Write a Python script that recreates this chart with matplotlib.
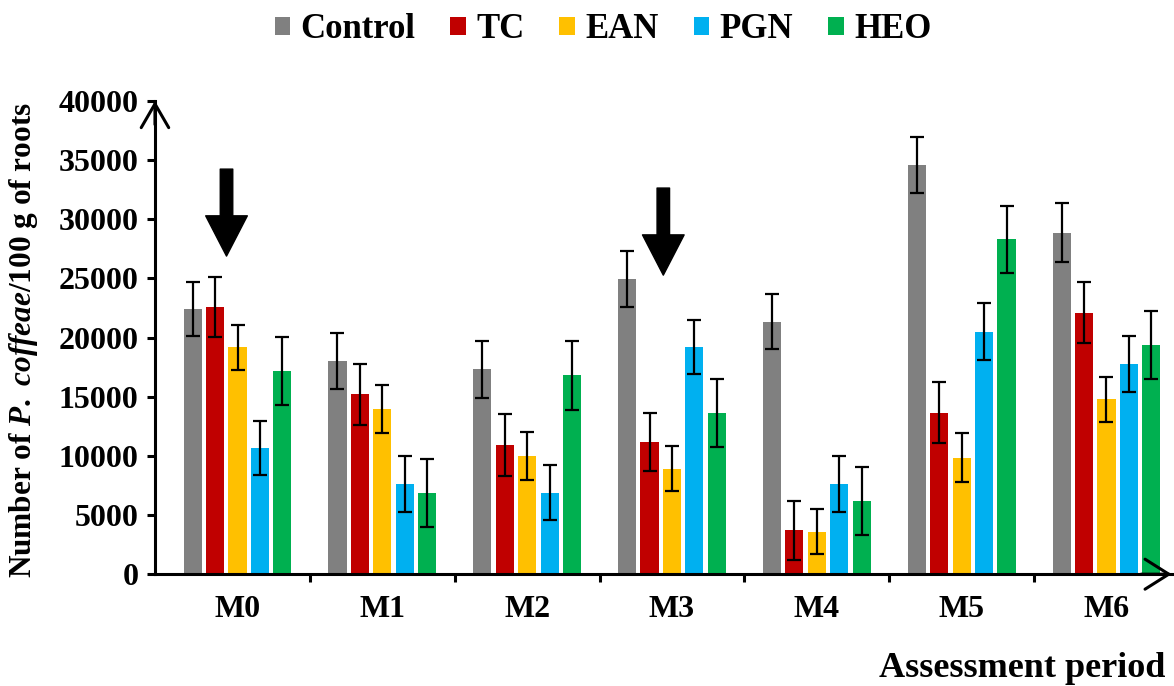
import numpy as np
import matplotlib.pyplot as plt
from matplotlib.patches import Patch

plt.rcParams['font.family'] = 'Liberation Serif'
plt.rcParams['font.weight'] = 'bold'
plt.rcParams['axes.labelweight'] = 'bold'
plt.rcParams['mathtext.fontset'] = 'custom'
plt.rcParams['mathtext.it'] = 'Liberation Serif:italic:bold'
plt.rcParams['mathtext.rm'] = 'Liberation Serif:bold'

# data
periods = ['M0', 'M1', 'M2', 'M3', 'M4', 'M5', 'M6']
treatments = ['Control', 'TC', 'EAN', 'PGN', 'HEO']
colors = ['#808080', '#C00000', '#FFC000', '#00B0F0', '#00B050']

control = [22400, 18030, 17300, 24940, 21330, 34570, 28850]
tc = [22570, 15190, 10900, 11180, 3720, 13640, 22090]
ean = [19190, 13920, 10000, 8930, 3580, 9860, 14770]
pgn = [10650, 7610, 6900, 19210, 7610, 20480, 17750]
heo = [17160, 6870, 16800, 13610, 6170, 28290, 19360]

control_err = [2300, 2370, 2400, 2400, 2340, 2340, 2480]
tc_err = [2550, 2600, 2600, 2480, 2480, 2590, 2590]
ean_err = [1900, 2030, 2000, 1890, 1890, 2090, 1920]
pgn_err = [2300, 2370, 2300, 2310, 2370, 2400, 2370]
heo_err = [2870, 2850, 2900, 2900, 2900, 2850, 2900]

values = [control, tc, ean, pgn, heo]
errors = [control_err, tc_err, ean_err, pgn_err, heo_err]

fig = plt.figure(figsize=(11.74, 6.86), dpi=100)
ax = fig.add_axes([0.132, 0.163, 0.866, 0.690])

x = np.arange(len(periods))
step = 0.155
width = 0.125
for i, (vals, errs) in enumerate(zip(values, errors)):
    ax.bar(x + (i - 2) * step, vals, width, color=colors[i], zorder=2)
    ax.errorbar(x + (i - 2) * step, vals, yerr=errs, fmt='none', ecolor='black',
                elinewidth=1.6, capsize=5, capthick=1.6, zorder=3)

# treatment application arrows
for xp, tip, top in [(-0.076, 26880, 34230), (2.94, 25270, 32630)]:
    ax.annotate('', xy=(xp, tip), xytext=(xp, top),
                arrowprops=dict(arrowstyle='simple,head_width=3.0,head_length=2.9,tail_width=0.9',
                                mutation_scale=10, color='black', shrinkA=0, shrinkB=0))

ax.set_xlim(-0.57, 6.45)
ax.set_ylim(0, 40000)
ax.set_yticks(np.arange(0, 40001, 5000))
ax.set_xticks(x)
ax.set_xticklabels(periods)
ax.set_xticks(np.arange(0.5, 6.0, 1.0), minor=True)
ax.tick_params(axis='x', which='major', length=0, pad=15, labelsize=23)
ax.tick_params(axis='x', which='minor', length=6, width=2.2, direction='out')
ax.tick_params(axis='y', length=6, width=2.2, direction='out', pad=6, labelsize=23)

for s in ['top', 'right']:
    ax.spines[s].set_visible(False)
for s in ['left', 'bottom']:
    ax.spines[s].set_linewidth(2.2)

# axis arrowheads
ax.annotate('', xy=(0, 1.0), xytext=(0, 0.95), xycoords='axes fraction',
            arrowprops=dict(arrowstyle='->,head_width=0.55,head_length=0.95', lw=2.2,
                            mutation_scale=18, color='black', shrinkA=0, shrinkB=0))
ax.annotate('', xy=(1.0, 0), xytext=(0.97, 0), xycoords='axes fraction',
            arrowprops=dict(arrowstyle='->,head_width=0.6,head_length=0.95', lw=2.2,
                            mutation_scale=18, color='black', shrinkA=0, shrinkB=0))

ax.set_ylabel(r'Number of $\mathit{P.\ coffeae}$/100 g of roots', fontsize=22.5)
ax.yaxis.set_label_coords(-0.113, 0.495)

fig.text(1165 / 1174, 0.026, 'Assessment period', ha='right', va='center', fontsize=26)

handles = [Patch(facecolor=c) for c in colors]
fig.legend(handles, treatments, loc='center', bbox_to_anchor=(603 / 1174, 1 - 30 / 686),
           ncol=5, frameon=False, fontsize=25, handlelength=0.45, handleheight=0.45,
           handletextpad=0.3, columnspacing=1.0)

fig.savefig('out.png', dpi=100)
